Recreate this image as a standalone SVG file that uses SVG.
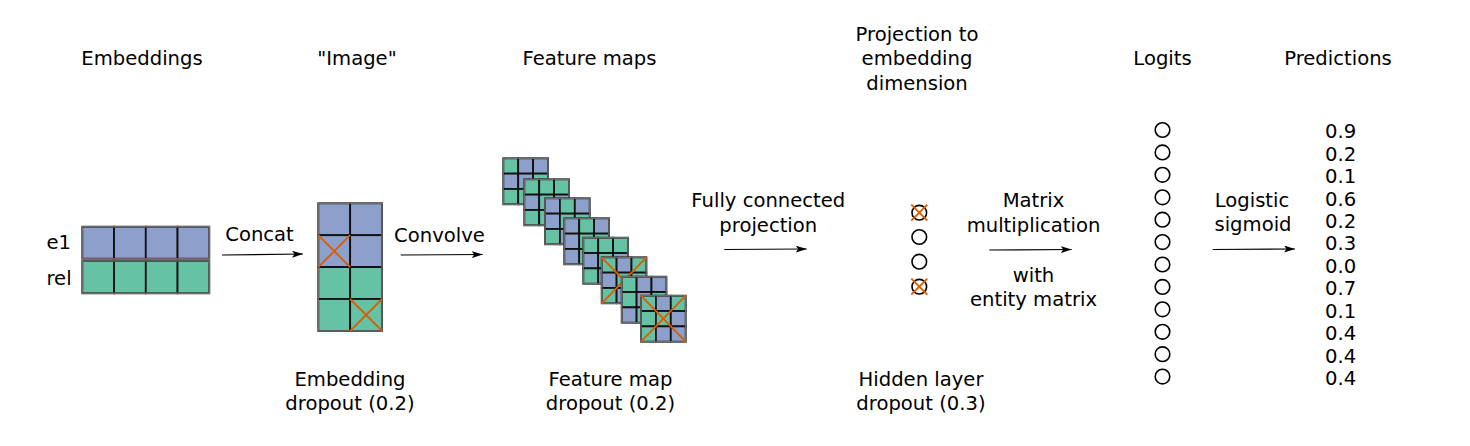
<svg xmlns="http://www.w3.org/2000/svg" width="1470" height="446" viewBox="0 0 1470 446">
<style>
text{font-family:"DejaVu Sans","Liberation Sans",sans-serif;font-size:19.6px;fill:#000}
.m{text-anchor:middle}
.b{fill:#8DA0CB;stroke:#111;stroke-width:1.8}
.g{fill:#66C2A5;stroke:#111;stroke-width:1.8}
.edge{fill:none;stroke:#6a6a6a;stroke-width:1.5}
.x{stroke:#D95F02;stroke-width:1.9;fill:none}
.c{fill:#fff;stroke:#000;stroke-width:1.6}
.arr{stroke:#000;stroke-width:1.2;fill:none;marker-end:url(#ah)}
</style>
<defs>
<marker id="ah" markerWidth="12" markerHeight="8" refX="11" refY="3.5" orient="auto" markerUnits="userSpaceOnUse">
<path d="M0,0 L11,3.5 L0,7 L2.5,3.5 z" fill="#000"/>
</marker>
</defs>
<rect width="1470" height="446" fill="#fff"/>

<g id="titles">
<text class="m" x="142" y="64.5">Embeddings</text>
<text class="m" x="357" y="64.5">"Image"</text>
<text class="m" x="589.5" y="64.5">Feature maps</text>
<text class="m" x="917" y="40.5">Projection to</text>
<text class="m" x="917" y="65">embedding</text>
<text class="m" x="917" y="89.5">dimension</text>
<text class="m" x="1162.5" y="64.5">Logits</text>
<text class="m" x="1338" y="64.5">Predictions</text>
</g>

<g id="embeddings">
<text x="46.5" y="249.3">e1</text>
<text x="46.5" y="285">rel</text>
<rect class="b" x="82.3" y="226.7" width="31.75" height="32"/>
<rect class="b" x="114.05" y="226.7" width="31.75" height="32"/>
<rect class="b" x="145.8" y="226.7" width="31.75" height="32"/>
<rect class="b" x="177.55" y="226.7" width="31.75" height="32"/>
<rect class="edge" x="82.3" y="226.7" width="127" height="32"/>
<rect class="g" x="82.3" y="261" width="31.75" height="32.3"/>
<rect class="g" x="114.05" y="261" width="31.75" height="32.3"/>
<rect class="g" x="145.8" y="261" width="31.75" height="32.3"/>
<rect class="g" x="177.55" y="261" width="31.75" height="32.3"/>
<rect class="edge" x="82.3" y="261" width="127" height="32.3"/>
</g>

<g id="image">
<rect class="b" x="318.3" y="203.3" width="31.85" height="31.9"/>
<rect class="b" x="350.15" y="203.3" width="31.85" height="31.9"/>
<rect class="b" x="318.3" y="235.2" width="31.85" height="31.9"/>
<rect class="b" x="350.15" y="235.2" width="31.85" height="31.9"/>
<rect class="g" x="318.3" y="267.1" width="31.85" height="31.9"/>
<rect class="g" x="350.15" y="267.1" width="31.85" height="31.9"/>
<rect class="g" x="318.3" y="299" width="31.85" height="31.9"/>
<rect class="g" x="350.15" y="299" width="31.85" height="31.9"/>
<rect class="edge" x="318.3" y="203.3" width="63.7" height="127.6"/>
<path class="x" d="M318.3,235.2 L350.15,267.1 M350.15,235.2 L318.3,267.1"/>
<path class="x" d="M350.15,299 L382,330.9 M382,299 L350.15,330.9"/>
<text class="m" x="350" y="386">Embedding</text>
<text class="m" x="350" y="410">dropout (0.2)</text>
</g>

<g id="feature-maps">
<g transform="translate(503.3,158.3)">
<rect class="g" x="0" y="0" width="14.9" height="15.33"/><rect class="b" x="14.9" y="0" width="14.9" height="15.33"/><rect class="b" x="29.8" y="0" width="14.9" height="15.33"/>
<rect class="b" x="0" y="15.33" width="14.9" height="15.33"/><rect class="b" x="14.9" y="15.33" width="14.9" height="15.33"/><rect class="g" x="29.8" y="15.33" width="14.9" height="15.33"/>
<rect class="g" x="0" y="30.67" width="14.9" height="15.33"/><rect class="g" x="14.9" y="30.67" width="14.9" height="15.33"/><rect class="b" x="29.8" y="30.67" width="14.9" height="15.33"/>
<rect class="edge" width="44.7" height="46"/>
</g>
<g transform="translate(524.3,179.3)">
<rect class="g" x="0" y="0" width="14.9" height="15.33"/><rect class="g" x="14.9" y="0" width="14.9" height="15.33"/><rect class="g" x="29.8" y="0" width="14.9" height="15.33"/>
<rect class="b" x="0" y="15.33" width="14.9" height="15.33"/><rect class="g" x="14.9" y="15.33" width="14.9" height="15.33"/><rect class="b" x="29.8" y="15.33" width="14.9" height="15.33"/>
<rect class="g" x="0" y="30.67" width="14.9" height="15.33"/><rect class="g" x="14.9" y="30.67" width="14.9" height="15.33"/><rect class="b" x="29.8" y="30.67" width="14.9" height="15.33"/>
<rect class="edge" width="44.7" height="46"/>
</g>
<g transform="translate(545,198.3)">
<rect class="b" x="0" y="0" width="14.9" height="15.33"/><rect class="g" x="14.9" y="0" width="14.9" height="15.33"/><rect class="b" x="29.8" y="0" width="14.9" height="15.33"/>
<rect class="b" x="0" y="15.33" width="14.9" height="15.33"/><rect class="g" x="14.9" y="15.33" width="14.9" height="15.33"/><rect class="g" x="29.8" y="15.33" width="14.9" height="15.33"/>
<rect class="g" x="0" y="30.67" width="14.9" height="15.33"/><rect class="b" x="14.9" y="30.67" width="14.9" height="15.33"/><rect class="g" x="29.8" y="30.67" width="14.9" height="15.33"/>
<rect class="edge" width="44.7" height="46"/>
</g>
<g transform="translate(564.3,218.3)">
<rect class="b" x="0" y="0" width="14.9" height="15.33"/><rect class="g" x="14.9" y="0" width="14.9" height="15.33"/><rect class="b" x="29.8" y="0" width="14.9" height="15.33"/>
<rect class="b" x="0" y="15.33" width="14.9" height="15.33"/><rect class="g" x="14.9" y="15.33" width="14.9" height="15.33"/><rect class="g" x="29.8" y="15.33" width="14.9" height="15.33"/>
<rect class="b" x="0" y="30.67" width="14.9" height="15.33"/><rect class="g" x="14.9" y="30.67" width="14.9" height="15.33"/><rect class="b" x="29.8" y="30.67" width="14.9" height="15.33"/>
<rect class="edge" width="44.7" height="46"/>
</g>
<g transform="translate(583.3,237.7)">
<rect class="g" x="0" y="0" width="14.9" height="15.33"/><rect class="g" x="14.9" y="0" width="14.9" height="15.33"/><rect class="g" x="29.8" y="0" width="14.9" height="15.33"/>
<rect class="b" x="0" y="15.33" width="14.9" height="15.33"/><rect class="g" x="14.9" y="15.33" width="14.9" height="15.33"/><rect class="b" x="29.8" y="15.33" width="14.9" height="15.33"/>
<rect class="g" x="0" y="30.67" width="14.9" height="15.33"/><rect class="b" x="14.9" y="30.67" width="14.9" height="15.33"/><rect class="g" x="29.8" y="30.67" width="14.9" height="15.33"/>
<rect class="edge" width="44.7" height="46"/>
</g>
<g transform="translate(601.7,257.3)">
<rect class="g" x="0" y="0" width="14.9" height="15.33"/><rect class="b" x="14.9" y="0" width="14.9" height="15.33"/><rect class="g" x="29.8" y="0" width="14.9" height="15.33"/>
<rect class="b" x="0" y="15.33" width="14.9" height="15.33"/><rect class="g" x="14.9" y="15.33" width="14.9" height="15.33"/><rect class="g" x="29.8" y="15.33" width="14.9" height="15.33"/>
<rect class="g" x="0" y="30.67" width="14.9" height="15.33"/><rect class="b" x="14.9" y="30.67" width="14.9" height="15.33"/><rect class="b" x="29.8" y="30.67" width="14.9" height="15.33"/>
<rect class="edge" width="44.7" height="46"/>
<path class="x" d="M0,0 L44.7,46 M44.7,0 L0,46"/>
</g>
<g transform="translate(621.7,276.7)">
<rect class="g" x="0" y="0" width="14.9" height="15.33"/><rect class="b" x="14.9" y="0" width="14.9" height="15.33"/><rect class="b" x="29.8" y="0" width="14.9" height="15.33"/>
<rect class="g" x="0" y="15.33" width="14.9" height="15.33"/><rect class="b" x="14.9" y="15.33" width="14.9" height="15.33"/><rect class="g" x="29.8" y="15.33" width="14.9" height="15.33"/>
<rect class="b" x="0" y="30.67" width="14.9" height="15.33"/><rect class="g" x="14.9" y="30.67" width="14.9" height="15.33"/><rect class="b" x="29.8" y="30.67" width="14.9" height="15.33"/>
<rect class="edge" width="44.7" height="46"/>
</g>
<g transform="translate(641,295.7)">
<rect class="g" x="0" y="0" width="14.9" height="15.33"/><rect class="b" x="14.9" y="0" width="14.9" height="15.33"/><rect class="g" x="29.8" y="0" width="14.9" height="15.33"/>
<rect class="g" x="0" y="15.33" width="14.9" height="15.33"/><rect class="g" x="14.9" y="15.33" width="14.9" height="15.33"/><rect class="b" x="29.8" y="15.33" width="14.9" height="15.33"/>
<rect class="g" x="0" y="30.67" width="14.9" height="15.33"/><rect class="b" x="14.9" y="30.67" width="14.9" height="15.33"/><rect class="b" x="29.8" y="30.67" width="14.9" height="15.33"/>
<rect class="edge" width="44.7" height="46"/>
<path class="x" d="M0,0 L44.7,46 M44.7,0 L0,46"/>
</g>
<text class="m" x="610.5" y="386">Feature map</text>
<text class="m" x="610.5" y="410">dropout (0.2)</text>
</g>

<g id="hidden-layer">
<circle class="c" cx="919.3" cy="212.7" r="7.3"/>
<circle class="c" cx="919.3" cy="237" r="7.3"/>
<circle class="c" cx="919.3" cy="261.7" r="7.3"/>
<circle class="c" cx="919.3" cy="286.7" r="7.3"/>
<path class="x" d="M911.3,204.7 L927.3,220.7 M927.3,204.7 L911.3,220.7"/>
<path class="x" d="M911.3,278.7 L927.3,294.7 M927.3,278.7 L911.3,294.7"/>
<text class="m" x="921" y="386">Hidden layer</text>
<text class="m" x="921" y="410">dropout (0.3)</text>
</g>

<g id="logits">
<circle class="c" cx="1162.5" cy="130" r="7.3"/>
<circle class="c" cx="1162.5" cy="152.4" r="7.3"/>
<circle class="c" cx="1162.5" cy="174.8" r="7.3"/>
<circle class="c" cx="1162.5" cy="197.3" r="7.3"/>
<circle class="c" cx="1162.5" cy="219.7" r="7.3"/>
<circle class="c" cx="1162.5" cy="242.1" r="7.3"/>
<circle class="c" cx="1162.5" cy="264.5" r="7.3"/>
<circle class="c" cx="1162.5" cy="286.9" r="7.3"/>
<circle class="c" cx="1162.5" cy="309.3" r="7.3"/>
<circle class="c" cx="1162.5" cy="331.8" r="7.3"/>
<circle class="c" cx="1162.5" cy="354.2" r="7.3"/>
<circle class="c" cx="1162.5" cy="376.6" r="7.3"/>
</g>

<g id="predictions">
<text x="1325" y="138.3">0.9</text>
<text x="1325" y="160.7">0.2</text>
<text x="1325" y="183.1">0.1</text>
<text x="1325" y="205.6">0.6</text>
<text x="1325" y="228">0.2</text>
<text x="1325" y="250.4">0.3</text>
<text x="1325" y="272.8">0.0</text>
<text x="1325" y="295.2">0.7</text>
<text x="1325" y="317.6">0.1</text>
<text x="1325" y="340.1">0.4</text>
<text x="1325" y="362.5">0.4</text>
<text x="1325" y="384.9">0.4</text>
</g>

<g id="connectors">
<line class="arr" x1="222" y1="255" x2="303" y2="254"/>
<text class="m" x="259.5" y="240.7">Concat</text>
<line class="arr" x1="400.7" y1="255" x2="482.7" y2="254.5"/>
<text class="m" x="439.5" y="241.7">Convolve</text>
<line class="arr" x1="724.3" y1="249.5" x2="806.7" y2="249"/>
<text class="m" x="768.3" y="206.7">Fully connected</text>
<text class="m" x="768.3" y="231.5">projection</text>
<line class="arr" x1="989.3" y1="250" x2="1071.7" y2="249.5"/>
<text class="m" x="1033.5" y="207">Matrix</text>
<text class="m" x="1033.5" y="231.5">multiplication</text>
<text class="m" x="1033.5" y="281.5">with</text>
<text class="m" x="1033.5" y="305.5">entity matrix</text>
<line class="arr" x1="1212.7" y1="249.5" x2="1295" y2="249"/>
<text class="m" x="1252" y="206.7">Logistic</text>
<text class="m" x="1253" y="230.7">sigmoid</text>
</g>
</svg>
